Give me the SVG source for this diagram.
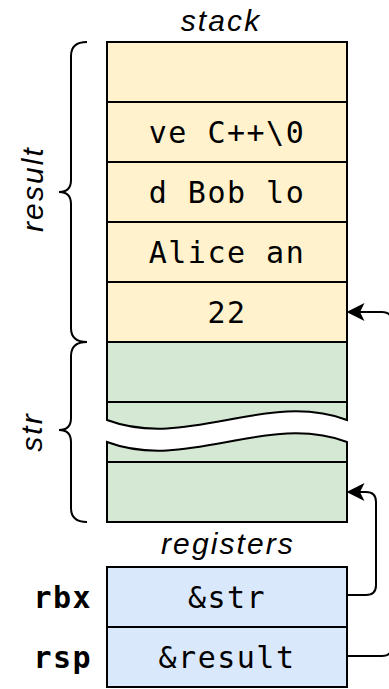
<svg xmlns="http://www.w3.org/2000/svg" width="389" height="689" viewBox="0 0 389 689">
<style>
  .y { fill: #fff2cc; stroke: #000; stroke-width: 2; }
  .g { fill: #d5e8d4; stroke: #000; stroke-width: 2; }
  .b { fill: #dae8fc; stroke: #000; stroke-width: 2; }
  .ln { fill: none; stroke: #000; stroke-width: 2; }
  .mono { font-family: "DejaVu Sans Mono", "Liberation Mono", monospace; font-size: 30px; letter-spacing: 1.5px; fill: #000; text-anchor: middle; }
  .reg { font-family: "DejaVu Sans Mono", "Liberation Mono", monospace; font-size: 30px; letter-spacing: 1.4px; font-weight: bold; fill: #000; text-anchor: end; }
  .lab { font-family: "Liberation Sans", Arial, sans-serif; font-size: 30px; font-style: italic; letter-spacing: 2.1px; fill: #000; text-anchor: middle; }
  .conn { fill: none; stroke: #000; stroke-width: 2; }
</style>
<defs>
  <marker id="arr" markerUnits="userSpaceOnUse" markerWidth="18" markerHeight="18" viewBox="0 0 16 16" refX="4" refY="8" orient="auto">
    <path d="M16,8 L0,0 L4,8 L0,16 Z" fill="#000"/>
  </marker>
</defs>

<g id="label-stack"><text class="lab" x="221" y="31">stack</text></g>
<g id="label-registers"><text class="lab" x="228" y="554">registers</text></g>

<g id="stack-row0"><rect class="y" x="107" y="42" width="240" height="60"/></g>
<g id="stack-row1"><rect class="y" x="107" y="102" width="240" height="60"/><text class="mono" x="227" y="143">ve C++\0</text></g>
<g id="stack-row2"><rect class="y" x="107" y="162" width="240" height="60"/><text class="mono" x="227" y="203">d Bob lo</text></g>
<g id="stack-row3"><rect class="y" x="107" y="222" width="240" height="60"/><text class="mono" x="227" y="263">Alice an</text></g>
<g id="stack-row4"><rect class="y" x="107" y="282" width="240" height="60"/><text class="mono" x="227" y="323">22</text></g>

<g id="str-top">
  <path class="g" d="M107,342 H347 V420 C267,390 187,450 107,420 Z"/>
  <line class="ln" x1="107" y1="402" x2="347" y2="402"/>
</g>
<g id="str-bottom">
  <path class="g" d="M107,442 C187,472 267,412 347,442 V522 H107 Z"/>
  <line class="ln" x1="107" y1="462" x2="347" y2="462"/>
</g>

<g id="brace-result">
  <path class="ln" d="M87,42 Q71,42 71,56 L71,180 Q71,192 59,192 Q71,192 71,204 L71,328 Q71,342 87,342"/>
  <text class="lab" transform="translate(43,189) rotate(-90)" x="0" y="0">result</text>
</g>
<g id="brace-str">
  <path class="ln" d="M87,342 Q71,342 71,356 L71,418 Q71,430 59,430 Q71,430 71,442 L71,508 Q71,522 87,522"/>
  <text class="lab" transform="translate(42,432) rotate(-90)" x="0" y="0">str</text>
</g>

<g id="reg-rbx">
  <rect class="b" x="107" y="567" width="240" height="60"/>
  <text class="mono" x="227" y="608">&amp;str</text>
  <text class="reg" x="92" y="608">rbx</text>
</g>
<g id="reg-rsp">
  <rect class="b" x="107" y="627" width="240" height="60"/>
  <text class="mono" x="227" y="668">&amp;result</text>
  <text class="reg" x="92" y="668">rsp</text>
</g>

<g id="connectors">
  <path class="conn" marker-end="url(#arr)" d="M347,595 H366 Q376,595 376,585 V502 Q376,492 366,492 H360"/>
  <path class="conn" marker-end="url(#arr)" d="M347,656 H382 Q392,656 392,646 V322 Q392,312 382,312 H360"/>
</g>
</svg>
